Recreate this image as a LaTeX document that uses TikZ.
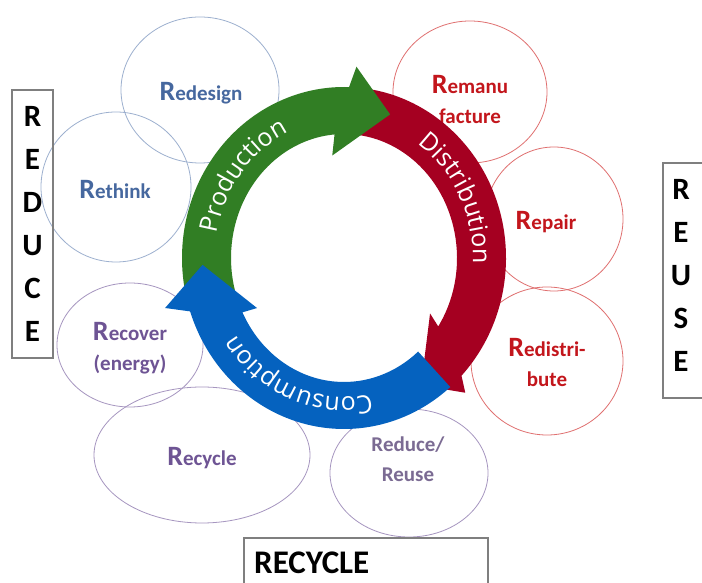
\documentclass[tikz,border=0pt]{standalone}
\usepackage{fontspec}
\setmainfont{Carlito}
\newfontfamily\ringfont{Open Sans}
\usetikzlibrary{shapes.geometric,decorations.text}
\definecolor{bblue}{HTML}{9DB0CF}
\definecolor{tblue}{HTML}{46689F}
\definecolor{bred}{HTML}{E07070}
\definecolor{tred}{HTML}{C3161C}
\definecolor{bpurp}{HTML}{A696C0}
\definecolor{tpurp}{HTML}{6E5494}
\definecolor{tgrey}{HTML}{7B6B93}
\definecolor{ringgreen}{HTML}{317E24}
\definecolor{ringred}{HTML}{A50021}
\definecolor{ringblue}{HTML}{0562BF}
\definecolor{boxgray}{HTML}{7F7F7F}
\newcommand\bigR{{\fontsize{28}{28}\selectfont R}}
\newcommand\ringtext{\ringfont\fontsize{25}{25}\selectfont\color{white}}
\begin{document}
\begin{tikzpicture}[x=1pt,y=1pt,
  bubble/.style={draw, ellipse, line width=0.8pt, inner sep=0pt, minimum width=#1},
  lab/.style={font=\bfseries\fontsize{21}{30}\selectfont, align=center, inner sep=0pt},
  framebox/.style={draw=boxgray, line width=1.2pt, inner sep=0pt},
  boxtext/.style={font=\bfseries\fontsize{31}{43}\selectfont, align=center, inner sep=0pt}]
\fill[white] (0,0) rectangle (702,583);
\useasboundingbox (0,0) rectangle (702,583);

% bubbles
\node[bubble=158pt, minimum height=146pt, bblue] (bredesign) at (200,493) {};
\node[bubble=150pt, minimum height=150pt, bblue] (brethink) at (116,396) {};
\node[bubble=154pt, minimum height=142pt, bred] (bremanu) at (470,491) {};
\node[bubble=138pt, minimum height=144pt, bred] (brepair) at (554,364) {};
\node[bubble=152pt, minimum height=148pt, bred] (bredist) at (547,222) {};
\node[bubble=146pt, minimum height=124pt, bpurp] (brecover) at (130,238) {};
\node[bubble=216pt, minimum height=136pt, bpurp] (brecycle) at (202,128) {};
\node[bubble=158pt, minimum height=128pt, bpurp] (breduce) at (409,110) {};

\node[lab, tblue] (tredesign) at (201,490) {\bigR edesign};
\node[lab, tblue] (trethink) at (115,393) {\bigR ethink};
\node[lab, tred] (tremanu) at (470,483) {\bigR emanu\\facture};
\node[lab, tred] (trepair) at (546,361) {\bigR epair};
\node[lab, tred] (tredist) at (547,220) {\bigR edistri-\\bute};
\node[lab, tpurp] (trecover) at (130,235) {\bigR ecover\\(energy)};
\node[lab, tpurp] (trecycle) at (202,125) {\bigR ecycle};
\node[lab, tgrey] (treduce) at (408,124) {Reduce/\\Reuse};

% ring
\begin{scope}[shift={(344,325)}]
\fill[ringred] (85:162pt and 171pt) arc[start angle=85,end angle=-43.5,x radius=162pt,y radius=171pt]
  -- (-46:174.6pt and 187.3pt) -- (-57:141.6pt and 151.9pt) -- (-31:100.4pt and 107.7pt)
  -- (-33.5:113pt and 124pt) arc[start angle=-33.5,end angle=85,x radius=113pt,y radius=124pt] -- cycle;
\fill[ringgreen] (198:162pt and 171pt) arc[start angle=198,end angle=88.2,x radius=162pt,y radius=171pt]
  -- (86:178.75pt and 191.75pt) -- (71:141.6pt and 151.9pt) -- (97:96.25pt and 103.25pt)
  -- (94.8:113pt and 124pt) arc[start angle=94.8,end angle=198,x radius=113pt,y radius=124pt] -- cycle;
\fill[ringblue] (-49:162pt and 171pt) arc[start angle=-49,end angle=-161.8,x radius=162pt,y radius=171pt]
  -- (-165.4:184.9pt and 198.4pt) -- (-177.4:141.6pt and 151.9pt) -- (-151.8:98.7pt and 105.9pt)
  -- (-154:113pt and 124pt) arc[start angle=-154,end angle=-49,x radius=113pt,y radius=124pt] -- cycle;

\path[decorate,decoration={text along path,text align=center,text={|\ringtext|Production}}]
  (187:129pt and 139pt) arc[start angle=187,end angle=97,x radius=129pt,y radius=139pt];
\path[decorate,decoration={text along path,text align=center,text={|\ringtext|Distribution}}]
  (72:129pt and 139pt) arc[start angle=72,end angle=-18,x radius=129pt,y radius=139pt];
\path[decorate,decoration={text along path,text align=center,text={|\ringtext|Consumption}}]
  (-67:129pt and 139pt) arc[start angle=-67,end angle=-157,x radius=129pt,y radius=139pt];
\end{scope}

% boxes
\node[framebox, minimum width=41pt, minimum height=268pt] (reducebox) at (32.5,359) {};
\node[boxtext] (reducetext) at (32.5,359) {R\\E\\D\\U\\C\\E};
\node[framebox, minimum width=50pt, minimum height=235pt] (reusebox) at (688,302.5) {};
\node[boxtext] (reusetext) at (681,308) {R\\E\\U\\S\\E};
\node[framebox, minimum width=244pt, minimum height=70pt] (recyclebox) at (366,10) {};
\node[font=\bfseries\fontsize{33}{33}\selectfont, anchor=west, inner sep=0pt] (recycletext) at (254,20) {RECYCLE};
\end{tikzpicture}
\end{document}
